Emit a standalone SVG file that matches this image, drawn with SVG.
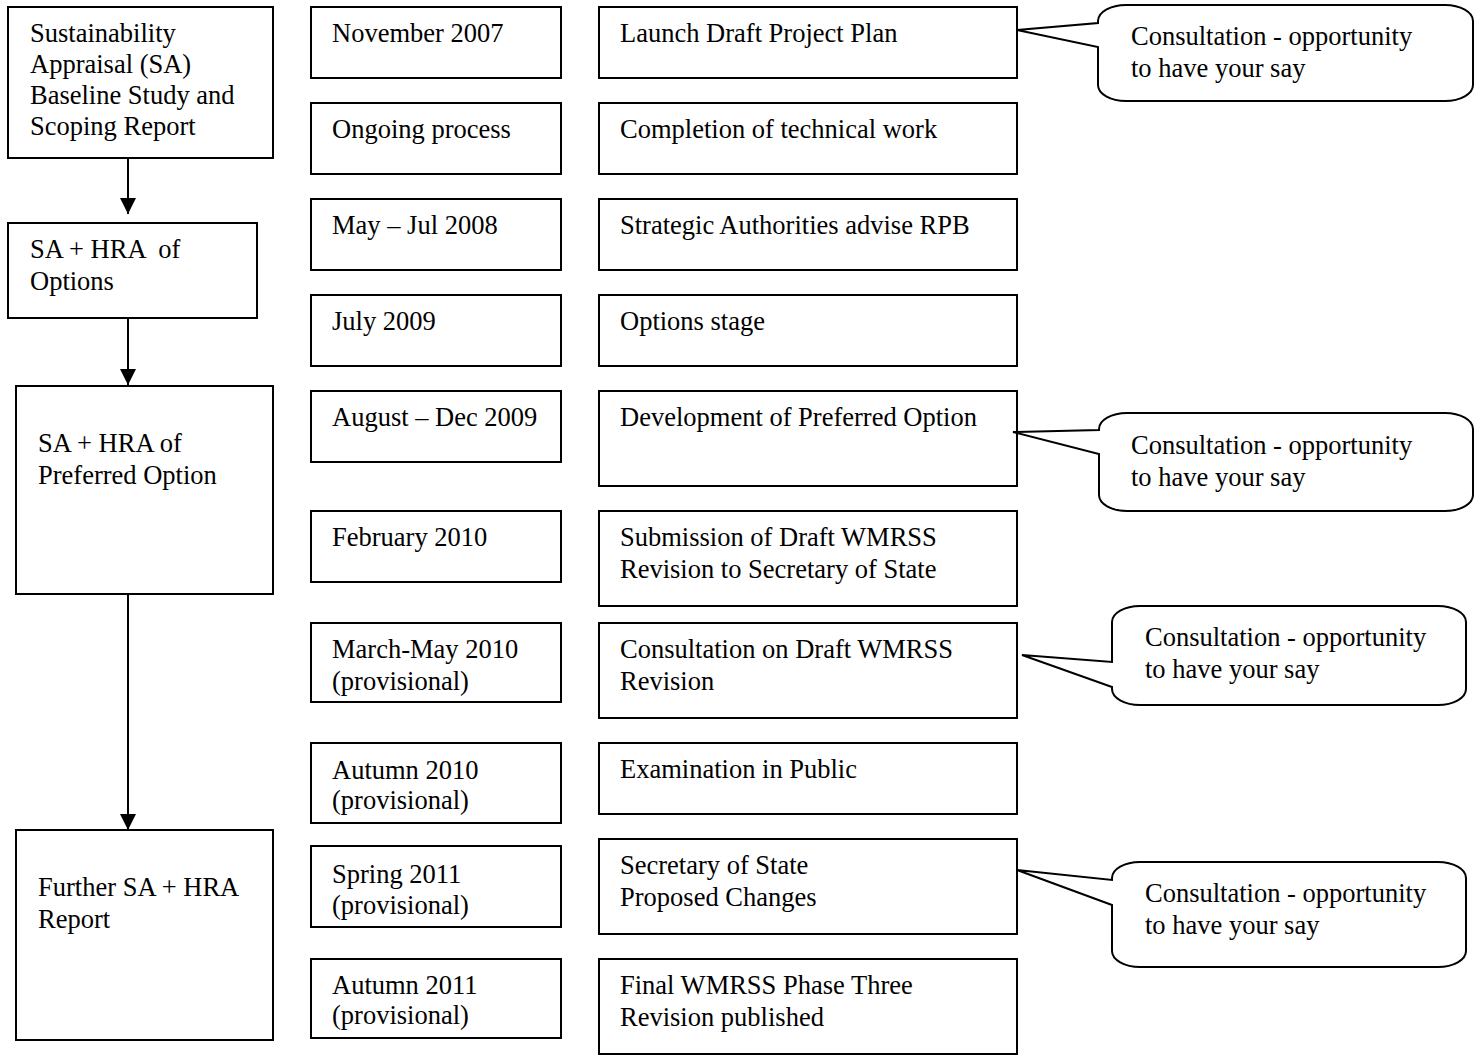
<svg xmlns="http://www.w3.org/2000/svg" width="1481" height="1055" viewBox="0 0 1481 1055">
<style>
.b{fill:#fff;stroke:#000;stroke-width:2}
.t{font-family:"Liberation Serif","Times New Roman",serif;font-size:26.5px;fill:#000}
.c{fill:none;stroke:#000;stroke-width:2}
</style>
<defs>
<marker id="ah" markerWidth="16" markerHeight="16" viewBox="0 0 16 16" refX="16" refY="8" orient="auto" markerUnits="userSpaceOnUse">
<path d="M0,0 L16,8 L0,16 Z" fill="#000"/>
</marker>
</defs>
<rect width="1481" height="1055" fill="#fff"/>

<g id="connectors">
<line class="c" x1="128" y1="158" x2="128" y2="214" marker-end="url(#ah)"/>
<line class="c" x1="128" y1="318" x2="128" y2="385" marker-end="url(#ah)"/>
<line class="c" x1="128" y1="594" x2="128" y2="830" marker-end="url(#ah)"/>
</g>

<g id="sa1"><rect class="b" x="8" y="7" width="265" height="151"/>
<text class="t" x="30" y="42">Sustainability</text><text class="t" x="30" y="73">Appraisal (SA)</text><text class="t" x="30" y="104">Baseline Study and</text><text class="t" x="30" y="135">Scoping Report</text></g>
<g id="sa2"><rect class="b" x="8" y="223" width="249" height="95"/>
<text class="t" x="30" y="258" xml:space="preserve">SA + HRA  of</text><text class="t" x="30" y="290">Options</text></g>
<g id="sa3"><rect class="b" x="16" y="386" width="257" height="208"/>
<text class="t" x="38" y="452">SA + HRA of</text><text class="t" x="38" y="484">Preferred Option</text></g>
<g id="sa4"><rect class="b" x="16" y="830" width="257" height="210"/>
<text class="t" x="38" y="896">Further SA + HRA</text><text class="t" x="38" y="928">Report</text></g>

<g id="d1"><rect class="b" x="311" y="7" width="250" height="71"/><text class="t" x="332" y="42">November 2007</text></g>
<g id="d2"><rect class="b" x="311" y="103" width="250" height="71"/><text class="t" x="332" y="138">Ongoing process</text></g>
<g id="d3"><rect class="b" x="311" y="199" width="250" height="71"/><text class="t" x="332" y="234">May – Jul 2008</text></g>
<g id="d4"><rect class="b" x="311" y="295" width="250" height="71"/><text class="t" x="332" y="330">July 2009</text></g>
<g id="d5"><rect class="b" x="311" y="391" width="250" height="71"/><text class="t" x="332" y="426">August – Dec 2009</text></g>
<g id="d6"><rect class="b" x="311" y="511" width="250" height="71"/><text class="t" x="332" y="546">February 2010</text></g>
<g id="d7"><rect class="b" x="311" y="623" width="250" height="79"/><text class="t" x="332" y="658">March-May 2010</text><text class="t" x="332" y="690">(provisional)</text></g>
<g id="d8"><rect class="b" x="311" y="743" width="250" height="80"/><text class="t" x="332" y="779">Autumn 2010</text><text class="t" x="332" y="809">(provisional)</text></g>
<g id="d9"><rect class="b" x="311" y="846" width="250" height="81"/><text class="t" x="332" y="883">Spring 2011</text><text class="t" x="332" y="914">(provisional)</text></g>
<g id="d10"><rect class="b" x="311" y="959" width="250" height="79"/><text class="t" x="332" y="994">Autumn 2011</text><text class="t" x="332" y="1024">(provisional)</text></g>

<g id="s1"><rect class="b" x="599" y="7" width="418" height="71"/><text class="t" x="620" y="42">Launch Draft Project Plan</text></g>
<g id="s2"><rect class="b" x="599" y="103" width="418" height="71"/><text class="t" x="620" y="138">Completion of technical work</text></g>
<g id="s3"><rect class="b" x="599" y="199" width="418" height="71"/><text class="t" x="620" y="234">Strategic Authorities advise RPB</text></g>
<g id="s4"><rect class="b" x="599" y="295" width="418" height="71"/><text class="t" x="620" y="330">Options stage</text></g>
<g id="s5"><rect class="b" x="599" y="391" width="418" height="95"/><text class="t" x="620" y="426">Development of Preferred Option</text></g>
<g id="s6"><rect class="b" x="599" y="511" width="418" height="95"/><text class="t" x="620" y="546">Submission of Draft WMRSS</text><text class="t" x="620" y="578">Revision to Secretary of State</text></g>
<g id="s7"><rect class="b" x="599" y="623" width="418" height="95"/><text class="t" x="620" y="658">Consultation on Draft WMRSS</text><text class="t" x="620" y="690">Revision</text></g>
<g id="s8"><rect class="b" x="599" y="743" width="418" height="71"/><text class="t" x="620" y="778">Examination in Public</text></g>
<g id="s9"><rect class="b" x="599" y="839" width="418" height="95"/><text class="t" x="620" y="874">Secretary of State</text><text class="t" x="620" y="906">Proposed Changes</text></g>
<g id="s10"><rect class="b" x="599" y="959" width="418" height="95"/><text class="t" x="620" y="994">Final WMRSS Phase Three</text><text class="t" x="620" y="1026">Revision published</text></g>

<g id="callout1"><path class="b" d="M1126,5 H1445 A28,16 0 0 1 1473,21 V85 A28,16 0 0 1 1445,101 H1126 A28,16 0 0 1 1098,85 V47 L1017,30 L1098,23 V21 A28,16 0 0 1 1126,5 Z"/>
<text class="t" x="1131" y="45">Consultation - opportunity</text><text class="t" x="1131" y="77">to have your say</text></g>
<g id="callout2"><path class="b" d="M1127,413 H1445 A28,16 0 0 1 1473,429 V495 A28,16 0 0 1 1445,511 H1127 A28,16 0 0 1 1099,495 V454 L1013,432 L1099,430 V429 A28,16 0 0 1 1127,413 Z"/>
<text class="t" x="1131" y="454">Consultation - opportunity</text><text class="t" x="1131" y="486">to have your say</text></g>
<g id="callout3"><path class="b" d="M1140,606 H1438 A28,16 0 0 1 1466,622 V689 A28,16 0 0 1 1438,705 H1140 A28,16 0 0 1 1112,689 V687 L1022,655 L1112,662 V622 A28,16 0 0 1 1140,606 Z"/>
<text class="t" x="1145" y="646">Consultation - opportunity</text><text class="t" x="1145" y="678">to have your say</text></g>
<g id="callout4"><path class="b" d="M1140,862 H1438 A28,16 0 0 1 1466,878 V951 A28,16 0 0 1 1438,967 H1140 A28,16 0 0 1 1112,951 V905 L1017,870 L1112,880 V878 A28,16 0 0 1 1140,862 Z"/>
<text class="t" x="1145" y="902">Consultation - opportunity</text><text class="t" x="1145" y="934">to have your say</text></g>
</svg>
